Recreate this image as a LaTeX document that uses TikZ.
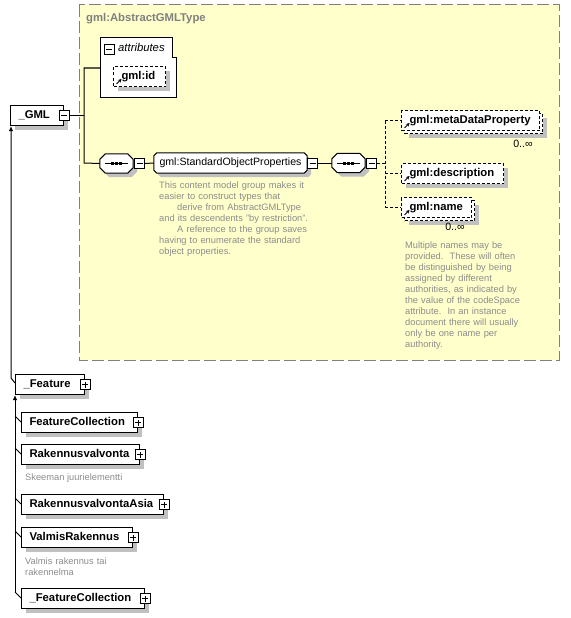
\documentclass[tikz,border=0pt]{standalone}
\usepackage{fontspec}
\setmainfont{Liberation Sans}
\usetikzlibrary{shadows,arrows.meta}
\definecolor{typeYellow}{HTML}{FFFFCC}
\definecolor{frameGray}{HTML}{808080}
\definecolor{shadowGray}{HTML}{C0C0C0}
\definecolor{noteGray}{HTML}{8C8C8C}
\pgfdeclarelayer{back}
\pgfsetlayers{back,main}
\newcommand{\chamferPath}[2]{([xshift=#2pt]#1.north west) -- ([xshift=-#2pt]#1.north east)
  -- ([yshift=-#2pt]#1.north east) -- ([yshift=#2pt]#1.south east) -- ([xshift=-#2pt]#1.south east)
  -- ([xshift=#2pt]#1.south west) -- ([yshift=#2pt]#1.south west) -- ([yshift=-#2pt]#1.north west) -- cycle}

\begin{document}
\begin{tikzpicture}
[x=1pt,y=-1pt,
  boxShadow/.style={general shadow={fill=shadowGray,draw=none,shadow xshift=#1,shadow yshift=-#1}},
  baseDecorate/.style={shape=rectangle,draw,fill=white,line width=1pt,minimum height=20pt,
    inner xsep=8pt,inner ysep=0pt,anchor=north west,align=left,text height=8.5pt,text depth=2.5pt,
    font=\fontsize{11.3}{13}\selectfont\bfseries},
  elemDecorate/.style={baseDecorate,boxShadow=4pt},
  refIcon/.style={path picture={\draw[solid,line width=1pt,-{Stealth[length=3.5pt,width=3.5pt]}]
    ([shift={(3pt,2.5pt)}]path picture bounding box.south west) -- ++(5,-5);}},
  optDecorate/.style={baseDecorate,boxShadow=4pt,dash pattern=on 3pt off 2pt,refIcon},
  multiDecorate/.style={baseDecorate,boxShadow=7pt,dash pattern=on 3pt off 2pt,refIcon,
    preaction={draw,fill=white,line width=1pt,dash pattern=on 3pt off 2pt,
      transform canvas={shift={(3pt,-3pt)}}}},
  toggleDecorate/.style={shape=rectangle,draw,fill=white,line width=0.8pt,minimum size=10pt,inner sep=0pt},
  minusDecorate/.style={toggleDecorate,path picture={\draw[line width=0.8pt]
    ([xshift=2pt]path picture bounding box.west) -- ([xshift=-2pt]path picture bounding box.east);}},
  plusDecorate/.style={toggleDecorate,path picture={\draw[line width=0.8pt]
    ([xshift=2pt]path picture bounding box.west) -- ([xshift=-2pt]path picture bounding box.east)
    ([yshift=2pt]path picture bounding box.south) -- ([yshift=-2pt]path picture bounding box.north);}},
  seqDecorate/.style={shape=rectangle,minimum width=33pt,minimum height=19pt,inner sep=0pt},
  groupDecorate/.style={shape=rectangle,minimum width=153pt,minimum height=20pt,inner sep=0pt,
    font=\fontsize{10.6}{13}\selectfont},
  noteDecorate/.style={anchor=base west,align=left,inner sep=0pt,text=noteGray,
    font=\fontsize{9.3}{11}\selectfont},
  cardDecorate/.style={anchor=base,inner sep=0pt,font=\fontsize{10.6}{13}\selectfont},
  wireDecorate/.style={-,line width=1pt},
  optWireDecorate/.style={wireDecorate,dash pattern=on 3pt off 2pt},
  deriveDecorate/.style={wireDecorate,-{Latex[length=5pt,width=4.5pt]}}]
\useasboundingbox (0,0) rectangle (570,618);

%% complex type frame
\begin{pgfonlayer}{back}
\draw[draw=frameGray,fill=typeYellow,line width=1pt,dash pattern=on 12pt off 4pt] (79,5) rectangle (559,360);
\end{pgfonlayer}
\node (typeTitle) [anchor=base west,inner sep=0pt,text=frameGray,font=\fontsize{11.3}{13}\selectfont\bfseries]
  at (86,22) {gml:AbstractGMLType};

%% attributes
\draw[line width=1pt,fill=white] (100,38) -- (172,38) -- (172,58) -- (176,58) -- (176,97) -- (100,97) -- cycle;
\node (attrsToggle) [minusDecorate] at (109,49) {};
\node (attrsTitle) [anchor=base west,inner sep=0pt,font=\fontsize{11.3}{13}\selectfont\itshape]
  at (118,52) {attributes};
\coordinate (attrsIn) at (100,68);
\node (gmlId) [optDecorate,text width=36pt] at (113,66) {gml:id};

%% root element and content model
\node (gml) [elemDecorate,text width=37pt] at (10,105) {\_GML};
\node (gmlToggle) [minusDecorate] at (gml.east) {};
\node (seqA) [seqDecorate] at (116.5,163.5) {};
\node (seqAToggle) [minusDecorate,anchor=west] at ([xshift=1pt]seqA.east) {};
\node (sop) [groupDecorate] at (230.5,163) {gml:StandardObjectProperties};
\node (sopToggle) [minusDecorate,anchor=west] at (sop.east) {};
\node (seqB) [seqDecorate] at (348.5,163) {};
\node (seqBToggle) [minusDecorate,anchor=west] at ([xshift=1pt]seqB.east) {};
\begin{pgfonlayer}{back}
\foreach \nodename/\cut in {seqA/5.5,seqB/5.5,sop/3} {
  \fill[shadowGray,transform canvas={shift={(4pt,-4pt)}}] \chamferPath{\nodename}{\cut};
  \draw[fill=white,line width=1pt] \chamferPath{\nodename}{\cut};
}
\foreach \nodename in {seqA,seqB} {
  \draw[line width=1pt] ([xshift=5pt]\nodename.west) -- ([xshift=-5pt]\nodename.east);
  \foreach \dx in {-4,0,4} {\fill ([xshift=\dx pt]\nodename.center) +(-1.5,-1.5) rectangle +(1.5,1.5);}
}
\end{pgfonlayer}

%% optional group members
\node (meta) [multiDecorate,text width=122pt] at (401,110) {gml:metaDataProperty};
\node (metaCard) [cardDecorate] at (523,147) {0..∞};
\node (desc) [optDecorate,text width=86pt] at (401,163) {gml:description};
\node (name) [multiDecorate,text width=54pt] at (401,197) {gml:name};
\node (nameCard) [cardDecorate] at (455,230) {0..∞};

%% annotations
\node (sopNote) [noteDecorate,text width=150pt] at (159,188) {This content model group makes it\\
  easier to construct types that\\
  \hspace*{18pt}derive from AbstractGMLType\\
  and its descendents \symbol{34}by restriction\symbol{34}.\\
  \hspace*{18pt}A reference to the group saves\\
  having to enumerate the standard\\
  object properties.};
\node (nameNote) [noteDecorate,text width=125pt] at (405,248) {Multiple names may be\\
  provided.\ \ These will often\\
  be distinguished by being\\
  assigned by different\\
  authorities, as indicated by\\
  the value of the codeSpace\\
  attribute.\ \ In an instance\\
  document there will usually\\
  only be one name per\\
  authority.};

%% wires
\coordinate (forkTop) at (84,68);
\coordinate (forkBot) at (84,163);
\coordinate (forkOpt) at (385,163);
\draw[wireDecorate] (gmlToggle.east) -- (gmlToggle.east -| forkTop);
\draw[wireDecorate] (attrsIn) -- (forkTop) -- (forkBot) -- (seqA.west);
\draw[wireDecorate] (seqAToggle.east) -- (sop.west);
\draw[wireDecorate] (sopToggle.east) -- (seqB.west);
\draw[optWireDecorate] (seqBToggle.east) -- (forkOpt);
\draw[optWireDecorate] (meta.west -| forkOpt) -- (name.west -| forkOpt);
\foreach \nodename in {meta,desc,name} {
  \draw[optWireDecorate] (\nodename.west -| forkOpt) -- (\nodename.west);
}

%% derived types
\node (feature) [elemDecorate,text width=53pt] at (15,374) {\_Feature};
\node (featureToggle) [plusDecorate] at (feature.east) {};
\draw[deriveDecorate] ([yshift=-9pt]feature.north west) -- ++(-4,-5) coordinate (featureBend)
  -- (featureBend |- gml.south);
\foreach \nodename/\lbl/\y/\w in {fcoll/FeatureCollection/412/100, rv/Rakennusvalvonta/444/102,
    rva/RakennusvalvontaAsia/494/126, valmis/ValmisRakennus/527/95, fcollB/\_FeatureCollection/588/107} {
  \node (\nodename) [elemDecorate,text width=\w pt] at (21,\y) {\lbl};
  \node (\nodename Toggle) [plusDecorate] at (\nodename.east) {};
  \draw[wireDecorate] ([yshift=-10pt]\nodename.north west) -- ++(-6,-6);
}
\coordinate (trunkEnd) at ([shift={(-6pt,-4pt)}]fcollB.north west);
\draw[deriveDecorate] (trunkEnd) -- (trunkEnd |- feature.south);
\node (rvNote) [noteDecorate] at (25,480) {Skeeman juurielementti};
\node (valmisNote) [noteDecorate,text width=100pt] at (25,564) {Valmis rakennus tai\\rakennelma};
\end{tikzpicture}
\end{document}
